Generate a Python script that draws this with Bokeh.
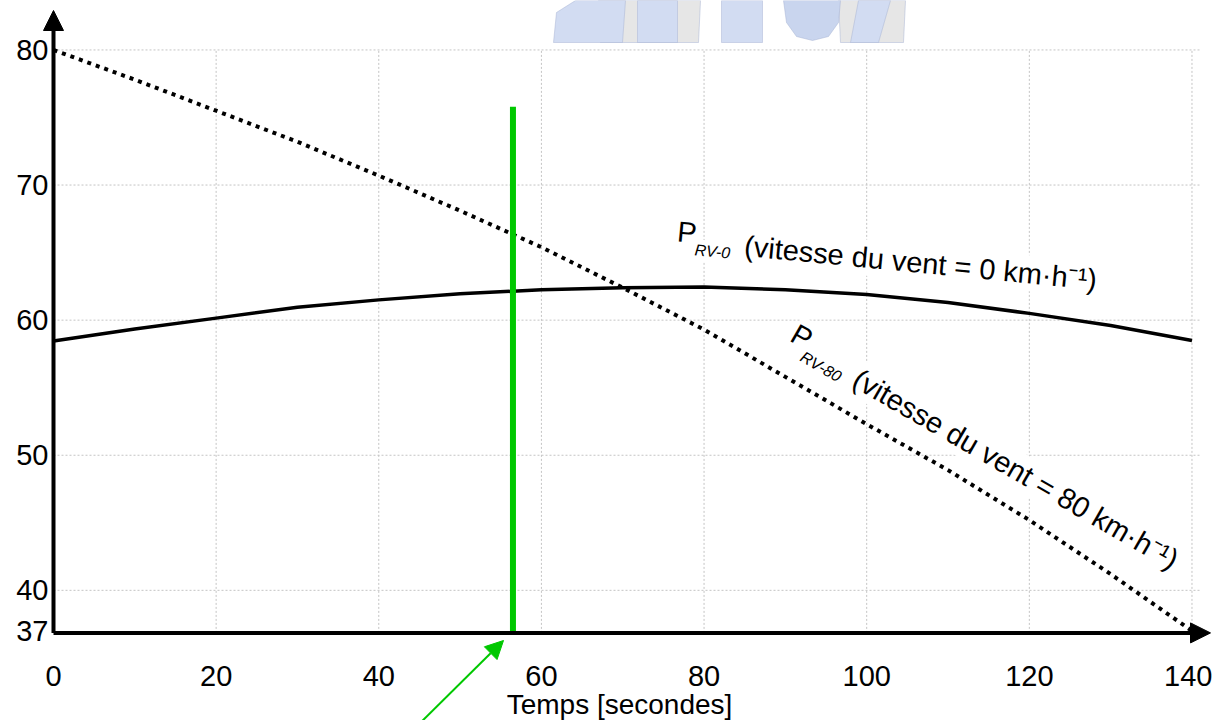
import math
from bokeh.plotting import figure
from bokeh.models import Range1d, FixedTicker, Arrow, NormalHead, Label, ColumnDataSource
from bokeh.core.properties import value
from bokeh.embed import file_html
from bokeh.resources import INLINE

# ---------------- data ----------------
time_s = [0, 10, 20, 30, 40, 50, 60, 70, 80, 90, 100, 110, 120, 130, 140]
p_rv0 = [58.45, 59.35, 60.15, 60.95, 61.5, 61.95, 62.25, 62.4, 62.45, 62.25, 61.9, 61.3, 60.5, 59.6, 58.5]
p_rv80 = [80.0, 77.8, 75.5, 73.2, 70.7, 68.1, 65.4, 62.4, 59.3, 55.8, 52.3, 48.9, 45.2, 41.2, 37.0]
x_ticks = [0, 20, 40, 60, 80, 100, 120, 140]
y_ticks = [37, 40, 50, 60, 70, 80]
marker_time = 56.5
marker_top = 75.8
label_rv0 = ["P", "RV-0", "(vitesse du vent = 0 km\u00b7h\u207b\u00b9)"]
label_rv80 = ["P", "RV-80", "(vitesse du vent = 80 km\u00b7h\u207b\u00b9)"]
x_title = "Temps [secondes]"

# ---------------- layout (pixel <-> data) ----------------
W, H = 1212, 720
KX = 8.132            # px per second
KY = 13.51            # px per unit
AX_X, AX_Y = 53.0, 632.4   # pixel position of the axes' crossing
Y_AXIS = 36.85        # value where the time axis sits
X0 = -AX_X / KX
X1 = X0 + W / KX
Y1 = Y_AXIS + AX_Y / KY
Y0 = Y1 - H / KY
BASE_FIX = 0.35       # rendered alphabetic baseline sits ~0.35em low


def dx(px):
    return X0 + px / KX


def dy(py):
    return Y1 - py / KY


FONT = "Liberation Sans"
GREEN = "#00c800"
GRID = "#c4c4c4"

p = figure(width=W, height=H, x_range=Range1d(X0, X1), y_range=Range1d(Y0, Y1),
           output_backend="svg", toolbar_location=None, min_border=0)
p.min_border_left = 0
p.min_border_right = 0
p.min_border_top = 0
p.min_border_bottom = 0
p.outline_line_color = None
p.background_fill_color = "white"
p.border_fill_color = "white"
p.xgrid.visible = False
p.ygrid.visible = False

p.xaxis.fixed_location = Y_AXIS
p.yaxis.fixed_location = 0
for ax, ticks, standoff in ((p.xaxis[0], x_ticks, 33), (p.yaxis[0], y_ticks, 5)):
    ax.ticker = FixedTicker(ticks=ticks)
    ax.axis_line_color = None
    ax.major_tick_line_color = None
    ax.minor_tick_line_color = None
    ax.major_tick_out = 0
    ax.major_tick_in = 0
    ax.major_label_standoff = standoff
    ax.major_label_text_font = FONT
    ax.major_label_text_font_size = "29px"
    ax.major_label_text_color = "black"

# faint watermark logo cut by the top edge (decoration)
wm_shapes = [
    ([598, 700, 698, 600], [0, 0, 42, 42], "#e6e6e6"),
    ([838, 905, 903, 840], [0, 0, 42, 42], "#e6e6e6"),
    ([553, 556, 575, 625, 622], [42, 12, 0, 0, 42], "#d2dcf2"),
    ([637, 677, 677, 637], [0, 0, 42, 42], "#d2dcf2"),
    ([721, 762, 762, 721], [0, 0, 42, 42], "#d2dcf2"),
    ([783, 840, 838, 828, 812, 796, 786], [0, 0, 22, 36, 40, 36, 22], "#c9d5ee"),
    ([858, 890, 878, 850], [0, 0, 42, 42], "#d2dcf2"),
]
p.patches(xs=[[dx(v) for v in s[0]] for s in wm_shapes],
          ys=[[dy(v) for v in s[1]] for s in wm_shapes],
          fill_color=[s[2] for s in wm_shapes], line_color="#aab6d6", line_width=1,
          line_alpha=0.5)

# dotted grid, limited to the 0..140 / 37..80 box
gx = x_ticks[1:]
p.segment(x0=gx, y0=[Y_AXIS] * len(gx), x1=gx, y1=[y_ticks[-1]] * len(gx),
          line_color=GRID, line_width=1, line_dash="2 2")
gy = y_ticks[1:]
p.segment(x0=[0] * len(gy), y0=gy, x1=[x_ticks[-1] + 1] * len(gy), y1=gy,
          line_color=GRID, line_width=1, line_dash="2 2")


def place(t, v, phi, d, e):
    a = math.radians(phi)
    sx = d * math.cos(a) - e * math.sin(a)
    sy = d * math.sin(a) + e * math.cos(a)
    return t + sx / KX, v - sy / KY


def add_label(texts, anchor, phi, offsets, sizes, styles):
    xs, ys = [], []
    for (d, e), size in zip(offsets, sizes):
        x, y = place(anchor[0], anchor[1], phi, d, e - BASE_FIX * size)
        xs.append(x)
        ys.append(y)
    for k in range(len(texts)):
        p.text(x=[xs[k]], y=[ys[k]], text=[texts[k]], angle=-math.radians(phi),
               text_font=value(FONT), text_font_size=f"{sizes[k]}px",
               text_font_style=styles[k], text_color="white", text_alpha=0.0,
               text_baseline="alphabetic", text_align="left",
               background_fill_color="white", padding=2)
    for k in range(len(texts)):
        p.text(x=[xs[k]], y=[ys[k]], text=[texts[k]], angle=-math.radians(phi),
               text_font=value(FONT), text_font_size=f"{sizes[k]}px",
               text_font_style=styles[k], text_color="black",
               text_baseline="alphabetic", text_align="left")


add_label(label_rv0, (dx(676), dy(241)), 5.5, [(0, 0), (19, 12), (68, 8)],
          [29, 16, 29], ["normal", "italic", "normal"])
add_label(label_rv80, (dx(788), dy(340)), 30.0, [(0, 0), (19, 12), (76, 8)],
          [29, 16, 29], ["normal", "italic", "normal"])

src = ColumnDataSource(dict(t=time_s, rv0=p_rv0, rv80=p_rv80))
p.line("t", "rv0", source=src, line_color="black", line_width=3.5)
p.line("t", "rv80", source=src, line_color="black", line_width=4, line_dash="4 5")

# green marker line
p.segment(x0=[marker_time], y0=[Y_AXIS], x1=[marker_time], y1=[marker_top],
          line_color=GREEN, line_width=6)

# green pointer arrow (coming from below the axis)
p.add_layout(Arrow(end=NormalHead(size=18, fill_color=GREEN, line_color=GREEN),
                   x_start=dx(405), y_start=dy(737), x_end=dx(503), y_end=dy(640),
                   line_color=GREEN, line_width=2))

# axes drawn as arrows
p.add_layout(Arrow(end=NormalHead(size=20, fill_color="black", line_color="black"),
                   x_start=0, y_start=Y_AXIS, x_end=0, y_end=dy(10),
                   line_color="black", line_width=4))
p.add_layout(Arrow(end=NormalHead(size=20, fill_color="black", line_color="black"),
                   x_start=0, y_start=Y_AXIS, x_end=dx(1210), y_end=Y_AXIS,
                   line_color="black", line_width=4))

TITLE_PX = 28
p.add_layout(Label(x=dx(619), y=dy(714 - BASE_FIX * TITLE_PX), text=x_title,
                   text_align="center", text_baseline="alphabetic", text_font=FONT,
                   text_font_size=f"{TITLE_PX}px", text_color="black"))

open("out.html", "w").write(file_html(p, INLINE))
